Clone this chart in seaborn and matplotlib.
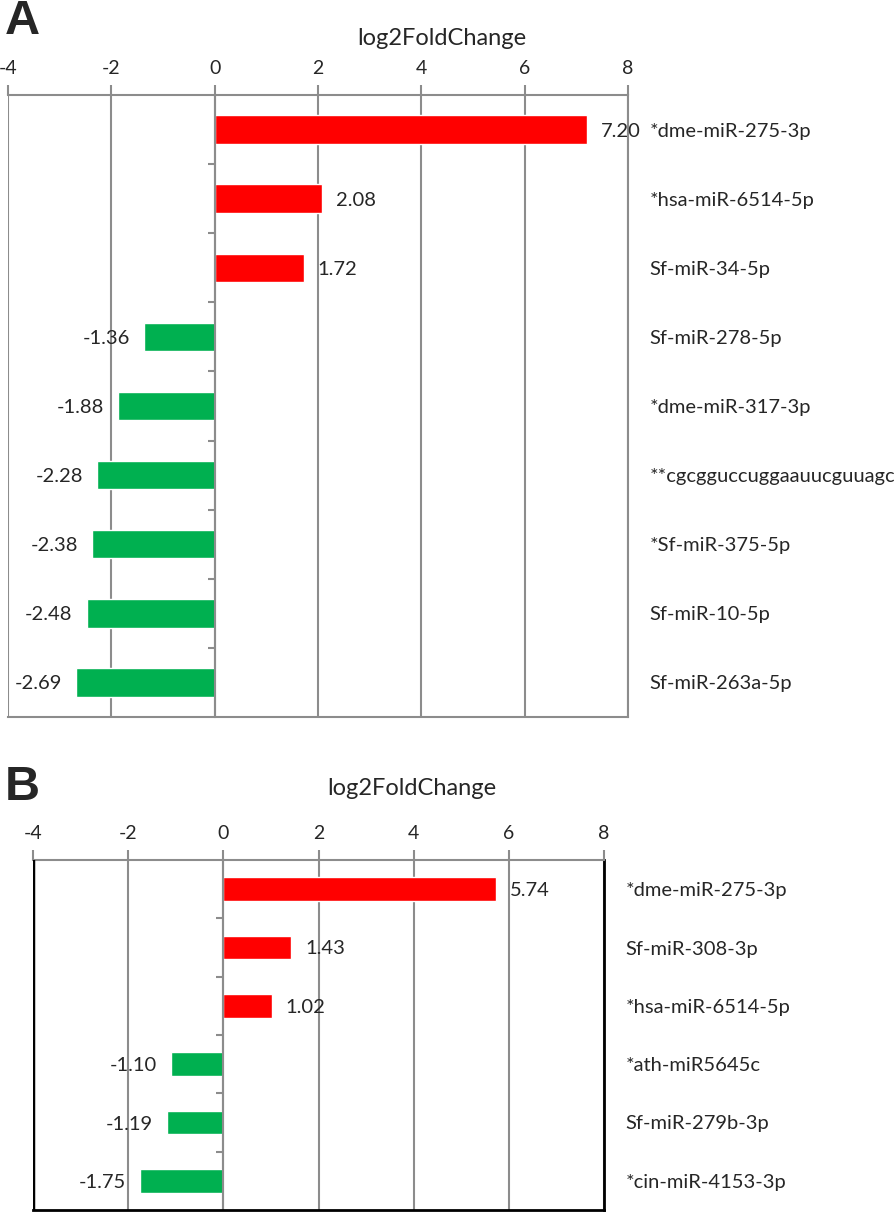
import matplotlib
matplotlib.use("Agg")
import matplotlib.pyplot as plt
from matplotlib.ticker import FixedLocator
import pandas as pd
import seaborn as sns

# panel A data
mirna_a = ["*dme-miR-275-3p", "*hsa-miR-6514-5p", "Sf-miR-34-5p", "Sf-miR-278-5p",
           "*dme-miR-317-3p", "**cgcgguccuggaauucguuagc", "*Sf-miR-375-5p",
           "Sf-miR-10-5p", "Sf-miR-263a-5p"]
lfc_a = [7.20, 2.08, 1.72, -1.36, -1.88, -2.28, -2.38, -2.48, -2.69]

# panel B data
mirna_b = ["*dme-miR-275-3p", "Sf-miR-308-3p", "*hsa-miR-6514-5p", "*ath-miR5645c",
           "Sf-miR-279b-3p", "*cin-miR-4153-3p"]
lfc_b = [5.74, 1.43, 1.02, -1.10, -1.19, -1.75]

xticks = [-4, -2, 0, 2, 4, 6, 8]
UP = "#FF0000"
DOWN = "#00B050"
GRID = "#8C8C8C"

sns.set_style("white")
plt.rcParams["font.family"] = ["Lato", "DejaVu Sans"]

fig = plt.figure(figsize=(8.94, 12.12), dpi=100)


def panel(rect, names, values, label_xy, black_frame):
    ax = fig.add_axes(rect)
    df = pd.DataFrame({"mirna": names, "lfc": values})
    df["dir"] = ["up" if v > 0 else "down" for v in values]
    sns.barplot(data=df, x="lfc", y="mirna", hue="dir", palette={"up": UP, "down": DOWN},
                width=0.41, legend=False, ax=ax, saturation=1)
    for cont in ax.containers:
        for t in ax.bar_label(cont, fmt="%.2f", padding=10, fontsize=14.5):
            t.set_va("center_baseline")

    n = len(names)
    ax.set_xlim(-4, 8)
    ax.set_ylim(n - 0.5, -0.5)
    ax.set_xticks(xticks)
    ax.set_xticklabels([str(t) for t in xticks])
    ax.xaxis.tick_top()
    ax.tick_params(axis="x", which="major", top=True, bottom=False, length=7,
                   color=GRID, width=1.5, labelsize=14, pad=6)
    ax.grid(axis="x", color=GRID, linewidth=1.5)
    ax.set_axisbelow(True)

    # category labels on the right, boundary ticks on the zero line
    ax.yaxis.tick_right()
    ax.tick_params(axis="y", which="major", left=False, right=False,
                   labelleft=False, labelright=True, labelsize=14.5, pad=12)
    ax.yaxis.set_minor_locator(FixedLocator([i + 0.5 for i in range(n - 1)]))
    ax.tick_params(axis="y", which="minor", left=True, right=False, length=5,
                   color=GRID, width=1.5, direction="out")
    ax.spines["left"].set_position(("data", 0))
    ax.spines["left"].set_color(GRID)
    ax.spines["left"].set_linewidth(1.5)
    ax.spines["top"].set_color(GRID)
    ax.spines["top"].set_linewidth(1.5)
    edge = "black" if black_frame else GRID
    for s in ["right", "bottom"]:
        ax.spines[s].set_color(edge)
        ax.spines[s].set_linewidth(2 if black_frame else 1.5)
    if black_frame:
        ax.axvline(-4, color="black", linewidth=2.5, zorder=5)

    ax.set_ylabel("")
    ax.set_xlabel("log2FoldChange", fontsize=17)
    ax.xaxis.set_label_position("top")
    ax.xaxis.set_label_coords(*label_xy)
    return ax


panel([8 / 894, 1 - 717 / 1212, 620 / 894, 622 / 1212], mirna_a, lfc_a,
      (0.70, 1.080), False)
panel([33 / 894, 1 - 1210 / 1212, 571 / 894, 350 / 1212], mirna_b, lfc_b,
      (0.664, 1.185), True)

fig.text(5 / 894, 1 - 21 / 1212, "A", fontsize=35, fontweight="bold",
         family="Liberation Sans", va="center", ha="left")
fig.text(5 / 894, 1 - 788 / 1212, "B", fontsize=35, fontweight="bold",
         family="Liberation Sans", va="center", ha="left")

fig.savefig("out.png", dpi=100)
